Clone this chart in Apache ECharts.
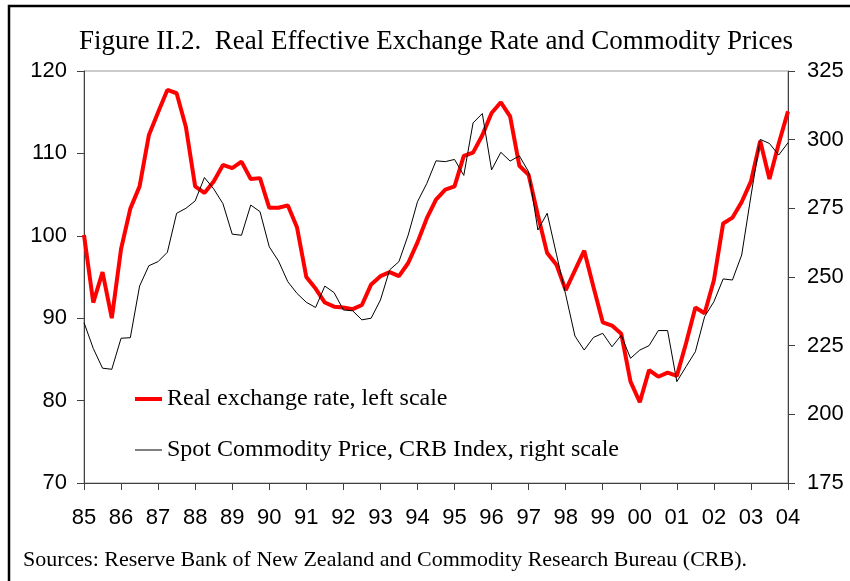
<!DOCTYPE html>
<html>
<head>
<meta charset="utf-8">
<script src="https://cdn.jsdelivr.net/npm/echarts@6/dist/echarts.min.js"></script>
<style>
  html, body { margin: 0; padding: 0; background: #fff; }
  #chart { width: 850px; height: 581px; }
</style>
</head>
<body>
<div id="chart"></div>
<script>
// tick labels, one per year (each year has 4 quarters)
var years = ['85', '86', '87', '88', '89', '90', '91', '92', '93', '94',
  '95', '96', '97', '98', '99', '00', '01', '02', '03', '04']

// real effective exchange rate, quarterly, 1985Q1 - 2004Q1 (left scale)
var realRate = [
  100.1, 91.9, 95.6, 90.0, 98.4, 103.3, 106.0, 112.2, 115.0, 117.7,
  117.3, 113.2, 106.0, 105.2, 106.6, 108.6, 108.2, 109.0, 106.9, 107.0,
  103.4, 103.4, 103.7, 101.0, 95.0, 93.6, 91.9, 91.4, 91.3, 91.1,
  91.6, 94.1, 95.1, 95.6, 95.1, 96.7, 99.2, 102.1, 104.4, 105.6,
  106.0, 109.7, 110.1, 112.2, 114.9, 116.2, 114.5, 108.5, 107.4, 102.5,
  97.9, 96.5, 93.4, 95.8, 98.2, 93.8, 89.5, 89.1, 88.1, 82.3,
  79.8, 83.7, 82.9, 83.4, 83.0, 87.0, 91.3, 90.6, 94.6, 101.5,
  102.2, 104.1, 106.6, 111.5, 106.9, 111.2, 115.1
]

// CRB spot commodity price index, quarterly (right scale)
var crbIndex = [
  233.4, 224.0, 216.8, 216.4, 227.7, 227.9, 246.7, 254.1, 255.6, 259.0,
  273.2, 275.0, 277.7, 286.2, 282.1, 276.7, 265.6, 265.2, 276.2, 273.8,
  261.0, 255.8, 248.3, 244.0, 240.8, 238.9, 246.7, 244.3, 238.0, 237.7,
  234.4, 235.0, 241.6, 252.6, 255.6, 265.3, 277.4, 284.0, 292.3, 292.0,
  292.8, 287.0, 306.1, 309.5, 289.0, 295.4, 292.2, 294.1, 288.3, 267.1,
  273.2, 258.3, 243.6, 228.5, 223.4, 228.0, 229.5, 224.6, 228.8, 220.4,
  223.4, 225.0, 230.5, 230.5, 211.9, 217.4, 222.8, 235.6, 241.0, 249.3,
  248.9, 258.0, 279.5, 300.1, 298.6, 294.4, 298.9
]

var rateName = 'Real exchange rate, left scale'
var crbName = 'Spot Commodity Price, CRB Index, right scale'

// quarterly categories, only the first quarter of a year gets a label
var quarters = []
years.forEach(function(y, i) {
  if (i < years.length - 1) {
    quarters.push(y, '', '', '')
  } else {
    quarters.push(y)
  }
})

var serif = '"Liberation Serif", "Times New Roman", serif'
var sans = '"Liberation Sans", Arial, sans-serif'
var axisColor = '#404040'

var myChart = echarts.init(document.getElementById('chart'), null, {renderer: 'canvas'})
var option = {
  animation: false,
  backgroundColor: '#fff',
  title: {
    text: 'Figure II.2.  Real Effective Exchange Rate and Commodity Prices',
    left: 74,
    top: 23,
    textStyle: {
      fontFamily: serif,
      fontWeight: 'normal',
      fontSize: 27,
      color: '#000'
    }
  },
  // one legend per row, so each icon gets its own line thickness
  legend: [{
    data: [{name: rateName, icon: 'rect'}],
    left: 130,
    top: 382,
    itemWidth: 27,
    itemHeight: 4,
    textStyle: {fontFamily: serif, fontSize: 24, color: '#000'}
  }, {
    data: [{name: crbName, icon: 'rect'}],
    left: 130,
    top: 433,
    itemWidth: 27,
    itemHeight: 1,
    textStyle: {fontFamily: serif, fontSize: 24, color: '#000'}
  }],
  grid: {
    left: 84,
    right: 62,
    top: 71,
    bottom: 98,
    show: true,
    borderColor: '#999',
    borderWidth: 1
  },
  xAxis: {
    type: 'category',
    boundaryGap: false,
    data: quarters,
    axisLine: {lineStyle: {color: axisColor, width: 1}},
    axisTick: {
      interval: 3,
      length: 7,
      lineStyle: {color: axisColor}
    },
    axisLabel: {
      interval: 3,
      margin: 24,
      color: '#000',
      fontFamily: sans,
      fontSize: 22
    },
    splitLine: {show: false}
  },
  yAxis: [{
    type: 'value',
    position: 'left',
    min: 70,
    max: 120,
    interval: 10,
    axisLine: {show: true, lineStyle: {color: axisColor}},
    axisTick: {show: true, length: 7, lineStyle: {color: axisColor}},
    axisLabel: {margin: 17, color: '#000', fontFamily: sans, fontSize: 22},
    splitLine: {show: false}
  }, {
    type: 'value',
    position: 'right',
    min: 175,
    max: 325,
    interval: 25,
    axisLine: {show: true, lineStyle: {color: axisColor}},
    axisTick: {show: true, length: 7, lineStyle: {color: axisColor}},
    axisLabel: {margin: 19, color: '#000', fontFamily: sans, fontSize: 22},
    splitLine: {show: false}
  }],
  series: [{
    name: rateName,
    type: 'line',
    yAxisIndex: 0,
    data: realRate,
    symbol: 'none',
    lineStyle: {color: '#ff0000', width: 4},
    itemStyle: {color: '#ff0000'},
    z: 2
  }, {
    name: crbName,
    type: 'line',
    yAxisIndex: 1,
    data: crbIndex,
    symbol: 'none',
    lineStyle: {color: '#000', width: 1},
    itemStyle: {color: '#000'},
    z: 3
  }],
  graphic: [{
    type: 'polyline',
    shape: {points: [[9, 581], [9, 6], [850, 6]]},
    style: {stroke: '#000', lineWidth: 2.5, fill: null},
    silent: true
  }, {
    type: 'text',
    left: 23,
    top: 549,
    style: {
      text: 'Sources: Reserve Bank of New Zealand and Commodity Research Bureau (CRB).',
      fontFamily: serif,
      fontSize: 22,
      fill: '#000'
    }
  }]
}

myChart.setOption(option)
</script>
</body>
</html>
